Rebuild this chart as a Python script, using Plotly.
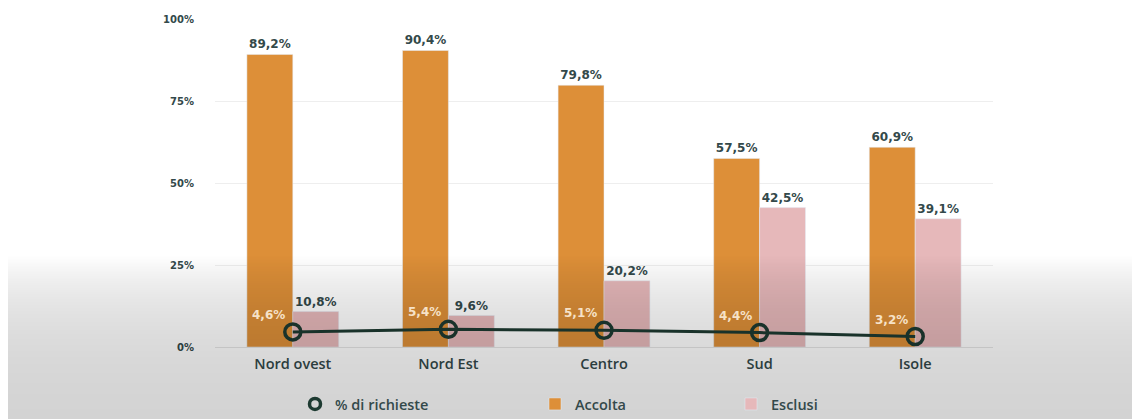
import base64
import math
import struct
import zlib

import plotly.graph_objects as go

# Regional data (percent)
regioni = ["Nord ovest", "Nord Est", "Centro", "Sud", "Isole"]
accolta = [89.2, 90.4, 79.8, 57.5, 60.9]
esclusi = [10.8, 9.6, 20.2, 42.5, 39.1]
richieste = [4.6, 5.4, 5.1, 4.4, 3.2]
tick_vals = [0, 25, 50, 75, 100]
tick_text = ["0%", "25%", "50%", "75%", "100%"]

W, H = 1132, 419
ML, MR, MT, MB = 215, 139, 19, 72
PW, PH = W - ML - MR, H - MT - MB

ORANGE = "#dd8f38"
PINK = "#e6b8ba"
DARK = "#1d3a31"
TEXT = "#33494a"
NUM_FONT = "DejaVu Sans"
LBL_FONT = "Open Sans"


def px_x(x):
    return (x - ML) / PW


def px_y(y):
    return (H - MB - y) / PH


def fade_png(rows):
    """Build a 2-px-wide RGBA PNG whose alpha follows the given per-row list."""
    raw = b""
    for a in rows:
        px = bytes([0, 0, 0, a])
        raw += b"\x00" + px * 2

    def chunk(tag, data):
        c = struct.pack(">I", len(data)) + tag + data
        return c + struct.pack(">I", zlib.crc32(tag + data) & 0xFFFFFFFF)

    png = b"\x89PNG\r\n\x1a\n"
    png += chunk(b"IHDR", struct.pack(">IIBBBBB", 2, len(rows), 8, 6, 0, 0, 0))
    png += chunk(b"IDAT", zlib.compress(raw, 9))
    png += chunk(b"IEND", b"")
    return "data:image/png;base64," + base64.b64encode(png).decode()


fig = go.Figure()

fig.add_trace(go.Bar(
    x=regioni, y=accolta, name="Accolta", marker_color=ORANGE,
    texttemplate="%{y:.1f}%", textposition="outside", cliponaxis=False,
    textfont=dict(family=NUM_FONT, size=12, color=TEXT, weight=700),
    legend="legend2",
))
fig.add_trace(go.Bar(
    x=regioni, y=esclusi, name="Esclusi", marker_color=PINK,
    texttemplate="%{y:.1f}%", textposition="outside", cliponaxis=False,
    textfont=dict(family=NUM_FONT, size=12, color=TEXT, weight=700),
    legend="legend3",
))
fig.add_trace(go.Scatter(
    x=regioni, y=richieste, name="% di richieste", mode="lines+markers",
    line=dict(color=DARK, width=3),
    marker=dict(symbol="circle-open", size=16, color=DARK, line=dict(width=3.5, color=DARK)),
    cliponaxis=False, showlegend=False,
))
# Marker-only entry for the legend
fig.add_trace(go.Scatter(
    x=[None], y=[None], name="% di richieste", mode="markers",
    marker=dict(symbol="circle-open", size=11, color=DARK, line=dict(width=3.5, color=DARK)),
    legend="legend",
))

# Labels for the request share, placed over the orange bars
for r, v in zip(regioni, richieste):
    fig.add_annotation(
        x=r, y=v, xref="x", yref="y", xshift=-24, yshift=17,
        text=f"{v:.1f}%".replace(".", ","), showarrow=False,
        font=dict(family=NUM_FONT, size=12, color="#f6e2c8", weight=700),
    )

# Soft grey fade across the lower part of the frame
Y0, Y1 = 250, H + 4
alpha_rows = [
    int(round(255 * 0.185 * (1 - math.exp(-max(0, y - 255) / 60))))
    for y in range(Y0, Y1)
]
fade = dict(
    source=fade_png(alpha_rows), xref="paper", yref="paper",
    x=px_x(8), y=px_y(Y0), sizex=px_x(W + 4) - px_x(8), sizey=px_y(Y0) - px_y(Y1),
    xanchor="left", yanchor="top", sizing="stretch", layer="above", opacity=1,
)

legend_common = dict(
    orientation="h", yanchor="middle", xanchor="left", y=px_y(404),
    bgcolor="rgba(0,0,0,0)", font=dict(family=LBL_FONT, size=14.5, color=TEXT, weight=600),
)

fig.update_layout(
    width=W, height=H,
    margin=dict(l=ML, r=MR, t=MT, b=MB, autoexpand=False),
    paper_bgcolor="white", plot_bgcolor="white",
    separators=",.",
    barmode="group", bargap=0.41, bargroupgap=0,
    showlegend=True,
    legend=dict(x=px_x(295), **legend_common),
    legend2=dict(x=px_x(535), **legend_common),
    legend3=dict(x=px_x(731), **legend_common),
    images=[fade],
    xaxis=dict(
        showgrid=False, showline=False, zeroline=False, ticks="",
        ticklabelstandoff=6,
        tickfont=dict(family=LBL_FONT, size=14.5, color=TEXT, weight=600),
    ),
    yaxis=dict(
        range=[0, 100], tickvals=tick_vals, ticktext=tick_text,
        showgrid=True, gridcolor="#eeeeee", gridwidth=1,
        zeroline=True, zerolinecolor="#e6e6e6", zerolinewidth=1,
        showline=False, ticks="", ticklabelstandoff=20,
        tickfont=dict(family=NUM_FONT, size=10, color=TEXT, weight=700),
    ),
)

fig.write_html("out.html")
